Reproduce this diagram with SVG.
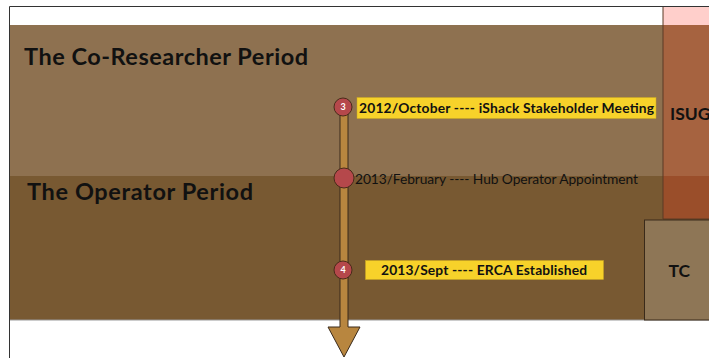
<svg xmlns="http://www.w3.org/2000/svg" width="709" height="358" viewBox="0 0 709 358">
<style>
.title{font-family:Lato,"Liberation Sans",sans-serif;font-weight:bold;font-size:23.5px;fill:#111}
.lbl{font-family:Lato,"Liberation Sans",sans-serif;font-size:13.8px;fill:#111}
.b{font-weight:bold}
.box{font-family:Lato,"Liberation Sans",sans-serif;font-weight:bold;font-size:17.5px;fill:#111}
.dot{fill:#B5484B;stroke:#4a2a1a;stroke-width:1}
.num{font-family:Lato,"Liberation Sans",sans-serif;font-weight:bold;font-size:9px;fill:#fff;text-anchor:middle}
.hl{fill:#F7D22A;stroke:#c9a820;stroke-width:0.5}
</style>
<rect x="0" y="0" width="709" height="358" fill="#fff"/>
<g id="frame">
<path d="M9.5 358 V6.5 H709" fill="none" stroke="#333" stroke-width="1"/>
</g>
<g id="co-researcher-period">
<rect x="10" y="25" width="653" height="151" fill="#8E7150"/>
<text class="title" x="24" y="65" textLength="284">The Co-Researcher Period</text>
</g>
<g id="operator-period">
<rect x="10" y="176" width="699" height="144" fill="#785932"/>
<line x1="10" y1="320" x2="709" y2="320" stroke="#999" stroke-width="1"/>
<text class="title" x="27" y="200" textLength="226">The Operator Period</text>
</g>
<g id="isug">
<rect x="663" y="7" width="46" height="18" fill="#FFCFCB"/>
<rect x="663" y="25" width="46" height="151" fill="#A66340"/>
<rect x="663" y="176" width="46" height="43" fill="#9A4E2A"/>
<path d="M663 7 V219 H709" fill="none" stroke="#5a3a25" stroke-width="1"/>
<text class="box" x="670" y="120">ISUG</text>
</g>
<g id="tc">
<rect x="644.5" y="220" width="70" height="100" fill="#8E7656" stroke="#3a2a1a" stroke-width="1"/>
<text class="box" x="668.5" y="277">TC</text>
</g>
<g id="connectors">
<path d="M340 107 H348 V327 H360 L344 357 L328 327 H340 Z" fill="#B8863F" stroke="#3a2a1a" stroke-width="1"/>
</g>
<g id="event-3">
<rect class="hl" x="357" y="97.5" width="299" height="21"/>
<text class="lbl b" x="359" y="113" textLength="295">2012/October ---- iShack Stakeholder Meeting</text>
<circle class="dot" cx="343" cy="107" r="9"/>
<text class="num" x="343" y="110">3</text>
</g>
<g id="event-feb">
<circle class="dot" cx="344" cy="178" r="10"/>
<text class="lbl" x="355" y="184" textLength="283">2013/February ---- Hub Operator Appointment</text>
</g>
<g id="event-4">
<rect class="hl" x="365.5" y="260.5" width="238" height="19"/>
<text class="lbl b" x="381" y="275" textLength="206">2013/Sept ---- ERCA Established</text>
<circle class="dot" cx="343" cy="270" r="9"/>
<text class="num" x="343" y="273">4</text>
</g>
</svg>
